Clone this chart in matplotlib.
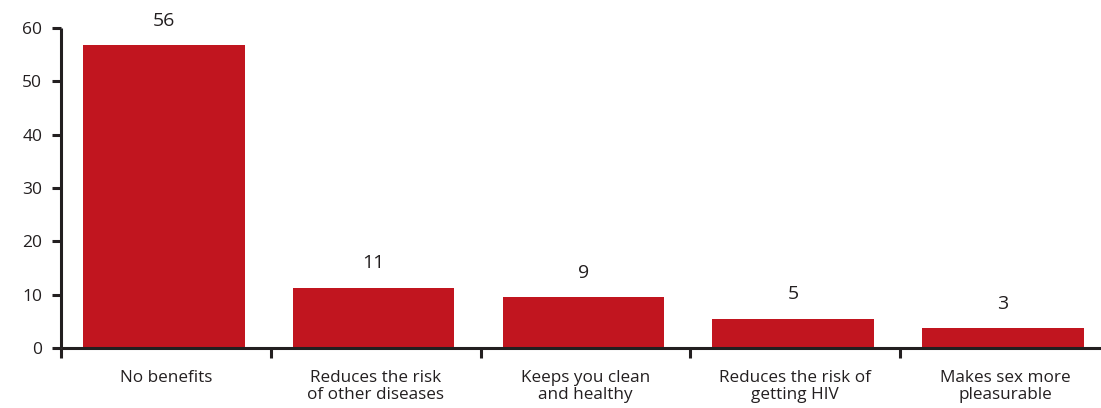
import matplotlib
matplotlib.use("Agg")
import matplotlib.pyplot as plt

categories = ["No benefits", "Reduces the risk\nof other diseases", "Keeps you clean\nand healthy",
              "Reduces the risk of\ngetting HIV", "Makes sex more\npleasurable"]
values = [56.8, 11.3, 9.6, 5.5, 3.7]
value_labels = ["56", "11", "9", "5", "3"]
yticks = [0, 10, 20, 30, 40, 50, 60]

plt.rcParams["font.family"] = ["Open Sans", "DejaVu Sans"]
ink = "#231f20"
red = "#c1151f"

fig = plt.figure(figsize=(11.01, 4.08), dpi=100)
ax = fig.add_axes([61 / 1101, 60 / 408, 1049 / 1101, 320 / 408])

x = [i - 0.01 for i in range(len(categories))]
bars = ax.bar(x, values, width=0.77, color=red)
for b, lab in zip(bars, value_labels):
    ax.annotate(lab, (b.get_x() + b.get_width() / 2, b.get_height()),
                xytext=(0, 11), textcoords="offset points",
                ha="center", va="bottom", fontsize=14, color=ink)

ax.set_xlim(-0.5, 4.5)
ax.set_ylim(0, 60)
ax.set_yticks(yticks)

for s in ("top", "right"):
    ax.spines[s].set_visible(False)
for s in ("left", "bottom"):
    ax.spines[s].set_linewidth(2.2)
    ax.spines[s].set_color(ink)
    ax.spines[s].set_capstyle("butt")

# boundary ticks between categories (major), labels at centres (minor)
ax.set_xticks([-0.5, 0.5, 1.5, 2.5, 3.5])
ax.set_xticklabels([])
ax.set_xticks(range(len(categories)), minor=True)
ax.set_xticklabels(categories, minor=True, fontsize=12.3, color=ink, linespacing=1.12)
ax.tick_params(axis="x", which="major", length=7.5, width=2.2, color=ink, direction="out")
ax.tick_params(axis="x", which="minor", length=0, pad=15.5)
ax.tick_params(axis="y", length=6.5, width=2.2, color=ink, labelsize=12.5,
               labelcolor=ink, pad=7)

fig.savefig("out.png", dpi=100)
